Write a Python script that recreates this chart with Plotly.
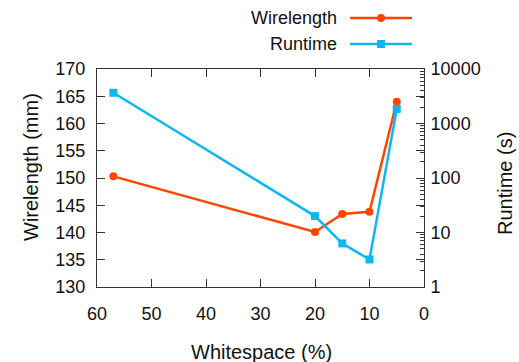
import plotly.graph_objects as go

whitespace = [57, 20, 15, 10, 5]
wirelength = [150.3, 140.1, 143.4, 143.8, 164.0]
runtime = [3670, 20, 6.3, 3.2, 1850]

left_ticks = [130, 135, 140, 145, 150, 155, 160, 165, 170]
right_tickvals = [1, 10, 100, 1000, 10000]
right_ticktext = ["1", "10", "100", "1000", "10000"]
x_ticks = [60, 50, 40, 30, 20, 10, 0]

C_WL = "#FF4500"
C_RT = "#10B6F0"
AX = "#333333"
FONT = "Liberation Sans, Arial, sans-serif"

L, R, T, B = 97, 424, 69, 287
W, H = 519, 362

fig = go.Figure()
fig.add_trace(go.Scatter(x=whitespace, y=wirelength, mode="lines+markers", name="Wirelength",
                         line=dict(color=C_WL, width=2.5),
                         marker=dict(symbol="circle", size=8, color=C_WL),
                         showlegend=False, cliponaxis=False))
fig.add_trace(go.Scatter(x=whitespace, y=runtime, mode="lines+markers", name="Runtime",
                         yaxis="y2",
                         line=dict(color=C_RT, width=2.5),
                         marker=dict(symbol="square", size=8, color=C_RT),
                         showlegend=False, cliponaxis=False))

tickfont = dict(family=FONT, size=18, color="#111")
titlefont = dict(family=FONT, size=20, color="#111")

fig.update_layout(
    width=W, height=H,
    margin=dict(l=L, r=W - R, t=T, b=H - B, autoexpand=False),
    paper_bgcolor="white", plot_bgcolor="white",
    xaxis=dict(range=[60, 0], tickvals=x_ticks, ticks="inside", ticklen=8, tickcolor=AX,
               showline=True, linecolor=AX, linewidth=1, mirror="ticks",
               showgrid=False, zeroline=False, tickfont=tickfont, ticklabelstandoff=10),
    yaxis=dict(range=[130, 170], tickvals=left_ticks, ticks="inside", ticklen=8, tickcolor=AX,
               showline=True, linecolor=AX, linewidth=1, mirror="ticks",
               showgrid=False, zeroline=False, tickfont=tickfont, ticklabelstandoff=7),
    yaxis2=dict(type="log", range=[0, 4], overlaying="y", side="right",
                tickvals=right_tickvals, ticktext=right_ticktext,
                ticks="inside", ticklen=8, tickcolor=AX,
                minor=dict(dtick="D1", ticks="inside", ticklen=4, tickcolor=AX, showgrid=False),
                showline=True, linecolor=AX, linewidth=1,
                showgrid=False, zeroline=False, tickfont=tickfont, ticklabelstandoff=2),
)

def px_x(p):
    return (p - L) / float(R - L)

def px_y(p):
    return (B - p) / float(B - T)

# axis titles
fig.add_annotation(x=px_x(261), y=px_y(352), xref="paper", yref="paper", text="Whitespace (%)",
                   showarrow=False, xanchor="center", yanchor="middle", font=titlefont)
fig.add_annotation(x=px_x(31), y=px_y(167), xref="paper", yref="paper", text="Wirelength (mm)",
                   showarrow=False, xanchor="center", yanchor="middle", textangle=-90, font=titlefont)
fig.add_annotation(x=px_x(505), y=px_y(184), xref="paper", yref="paper", text="Runtime (s)",
                   showarrow=False, xanchor="center", yanchor="middle", textangle=-90, font=titlefont)

# legend drawn gnuplot-style: text then sample
entries = [("Wirelength", C_WL, "circle", 18), ("Runtime", C_RT, "square", 44)]
for label, col, sym, ypx in entries:
    yy = px_y(ypx)
    fig.add_annotation(x=px_x(339), y=yy, xref="paper", yref="paper", text=label,
                       showarrow=False, xanchor="right", yanchor="middle",
                       font=dict(family=FONT, size=18, color="#111"))
    fig.add_shape(type="line", xref="paper", yref="paper", x0=px_x(350), x1=px_x(412),
                  y0=yy, y1=yy, line=dict(color=col, width=2.5))
    fig.add_shape(type="circle" if sym == "circle" else "rect", xref="paper", yref="paper",
                  xsizemode="pixel", ysizemode="pixel", xanchor=px_x(381), yanchor=yy,
                  x0=-4, x1=4, y0=-4, y1=4, fillcolor=col, line=dict(color=col, width=0))

fig.write_html("out.html", config={"displayModeBar": False},
               post_script="document.body.style.margin='0';document.body.style.overflow='hidden';")
